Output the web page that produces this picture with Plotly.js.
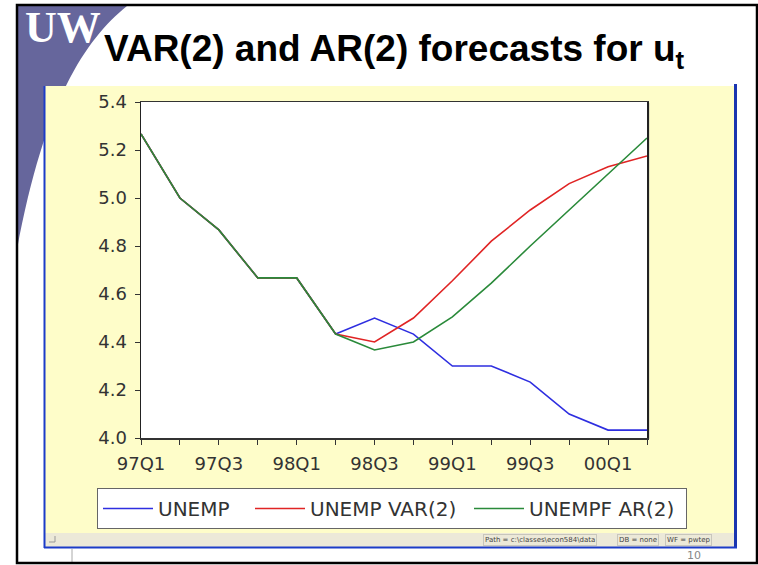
<!DOCTYPE html>
<html>
<head>
<meta charset="utf-8">
<script src="https://cdn.plot.ly/plotly-3.0.1.min.js"></script>
<style>html,body{margin:0;padding:0;background:#fff;}#chart{width:758px;height:565px;}</style>
</head>
<body>
<div id="chart"></div>
<script>
// ---- data ----
const quarters = ['97Q1','97Q2','97Q3','97Q4','98Q1','98Q2','98Q3','98Q4','99Q1','99Q2','99Q3','99Q4','00Q1','00Q2'];
const unemp    = [5.267,5.000,4.867,4.667,4.667,4.433,4.500,4.433,4.300,4.300,4.233,4.100,4.033,4.033];
const unempVar = [5.267,5.000,4.867,4.667,4.667,4.433,4.400,4.500,4.655,4.820,4.950,5.060,5.130,5.175];
const unempAr  = [5.267,5.000,4.867,4.667,4.667,4.433,4.367,4.400,4.505,4.645,4.800,4.950,5.100,5.250];
const seriesNames = ['UNEMP','UNEMP VAR(2)','UNEMPF AR(2)'];
const labeledQuarters = quarters.filter((q,i)=> i%2===0);
const otherQuarters = quarters.filter((q,i)=> i%2===1);
const yTicks = [4.0,4.2,4.4,4.6,4.8,5.0,5.2,5.4];

// ---- page geometry helpers (pixel -> paper) ----
const L=141, R=647, T=102, B=438;
const px = x => (x-L)/(R-L);
const py = y => (B-y)/(B-T);
function rect(x0,y0,x1,y1,fill,line,lw){
  return {type:'rect',xref:'paper',yref:'paper',x0:px(x0),x1:px(x1),y0:py(y1),y1:py(y0),
          fillcolor:fill||'rgba(0,0,0,0)',line:{color:line||'rgba(0,0,0,0)',width:lw||0},layer:'below'};
}
function seg(x0,y0,x1,y1,color,w,layer){
  return {type:'line',xref:'paper',yref:'paper',x0:px(x0),x1:px(x1),y0:py(y0),y1:py(y1),
          line:{color:color,width:w},layer:layer||'below'};
}
const P = (x,y)=> px(x).toFixed(5)+','+py(y).toFixed(5);
const logoPath = 'M'+P(17,6)+' L'+P(127,6)+' C'+P(85,40)+' '+P(45,100)+' '+P(17,250)+' Z';

const font = 'DejaVu Sans, Arial, sans-serif';
const lineColors = ['#2e2ee0','#e02424','#2a8a3a'];
const legendWidths = [87,154,152];
const yvals = [unemp, unempVar, unempAr];

const traces = yvals.map((v,i)=>({
  type:'scatter', mode:'lines', x:quarters, y:v, name:seriesNames[i],
  line:{color:lineColors[i], width:1.6}, legendwidth:legendWidths[i]
}));

const shapes = [
  {type:'path',xref:'paper',yref:'paper',path:logoPath,fillcolor:'#66669c',line:{width:0},layer:'below'},
  rect(44,86,736,548,'#fefdc9'),
  rect(45,533,735,547,'#ece9d8'),
  rect(141,102,647,438,'#ffffff'),
  seg(648.5,103,648.5,439,'#9a9a9a',1.5),
  seg(44.5,86,44.5,548,'#1c3cc8',2),
  seg(735.5,84,735.5,548,'#1a35b0',3),
  seg(44,547.5,737,547.5,'#1c3cc8',2),
  seg(72,549,72,563,'#aaaaaa',1),
  seg(49,542,55,542,'#999',1), seg(55,536,55,542,'#999',1),
  {type:'rect',xref:'paper',yref:'paper',x0:px(17),x1:px(757),y0:py(563),y1:py(5),
   line:{color:'#000',width:2.5},fillcolor:'rgba(0,0,0,0)',layer:'above'}
];

const ann = (x,y,text,f,extra)=>Object.assign({xref:'paper',yref:'paper',x:px(x),y:py(y),text:text,
  showarrow:false,xanchor:'center',yanchor:'middle',font:f},extra||{});
const sbFont = {family:font,size:7,color:'#444'};
const sbBox = {xanchor:'left',bordercolor:'#c8c6bc',borderwidth:1,borderpad:1};
const annotations = [
  ann(23,28,'<b>UW</b>',{family:'Liberation Serif, Times New Roman, serif',size:44,color:'#ffffff'},{xanchor:'left'}),
  ann(483,540,'Path = c:\\classes\\econ584\\data',sbFont,sbBox),
  ann(617,540,'DB = none',sbFont,sbBox),
  ann(665,540,'WF = pwtep',sbFont,sbBox),
  ann(694,555,'10',{family:font,size:11,color:'#888'})
];

const layout = {
  width:758, height:565,
  margin:{l:L, r:758-R, t:T, b:565-B, pad:0},
  paper_bgcolor:'#ffffff', plot_bgcolor:'rgba(0,0,0,0)',
  title:{text:'<b>VAR(2) and AR(2) forecasts for u<sub>t</sub></b>', xref:'container', yref:'container',
         x:104/758, xanchor:'left', y:1-35/565, yanchor:'top',
         font:{family:'Liberation Sans, Arial, sans-serif', size:37, color:'#000'}},
  showlegend:true,
  legend:{orientation:'h', x:px(97), y:py(488), xanchor:'left', yanchor:'top',
          bgcolor:'#ffffff', bordercolor:'#666', borderwidth:1,
          font:{family:font,size:20,color:'#333'}, itemwidth:50, traceorder:'normal'},
  xaxis:{type:'category', range:[0, quarters.length-1], tickmode:'array', tickvals:labeledQuarters, ticktext:labeledQuarters,
         ticks:'outside', ticklen:5, tickcolor:'#333', tickwidth:1, showgrid:false, zeroline:false,
         minor:{tickmode:'array', tickvals:otherQuarters, ticks:'outside', ticklen:5, tickcolor:'#333', tickwidth:1, showgrid:false},
         showline:true, linecolor:'#333', linewidth:1.5, mirror:true, ticklabelstandoff:4,
         tickfont:{family:font,size:18,color:'#333'}, fixedrange:true},
  yaxis:{range:[4.0,5.4], tickmode:'array', tickvals:yTicks, ticktext:yTicks.map(v=>v.toFixed(1)),
         ticks:'outside', ticklen:5, tickcolor:'#333', tickwidth:1, showgrid:false, zeroline:false,
         showline:true, linecolor:'#222', linewidth:1.5, mirror:true, ticklabelstandoff:4,
         tickfont:{family:font,size:18,color:'#333'}, fixedrange:true},
  shapes:shapes, annotations:annotations
};

Plotly.newPlot('chart', traces, layout, {displayModeBar:false, staticPlot:true});
</script>
</body>
</html>
